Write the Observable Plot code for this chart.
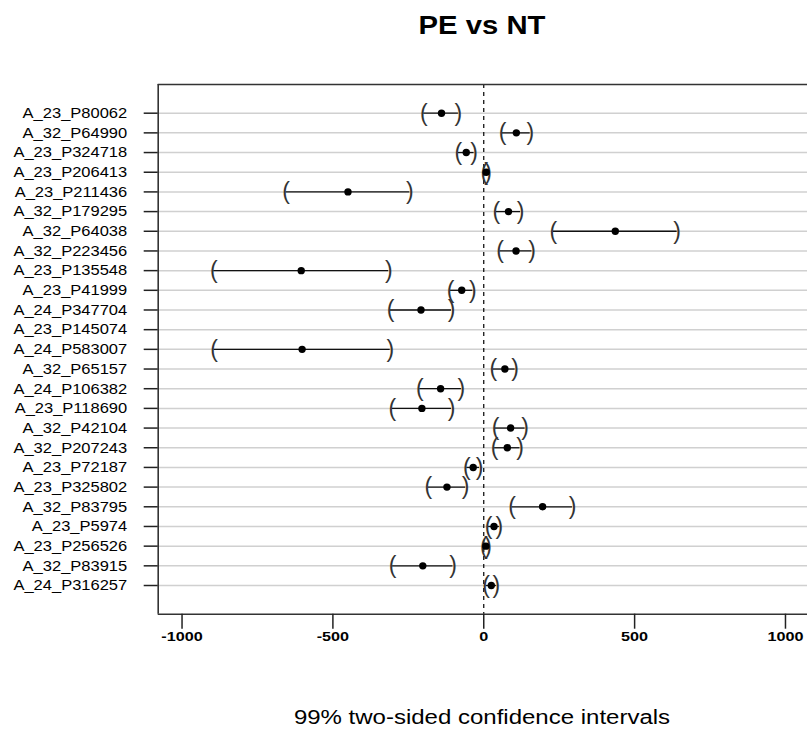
<!DOCTYPE html>
<html>
<head>
<meta charset="utf-8">
<script src="https://cdn.jsdelivr.net/npm/d3@7"></script>
<script src="https://cdn.jsdelivr.net/npm/@observablehq/plot@0.6"></script>
<style>
  body { margin: 0; background: #fff; }
  #wrap { position: relative; width: 807px; height: 731px; overflow: hidden; font-family: "Liberation Sans", Arial, sans-serif; }
  #chart { position: absolute; left: 0; top: 0; }
  .htext { position: absolute; white-space: nowrap; color: #000; transform-origin: 50% 50%; }
  #title { left: 482px; top: 13px; font-size: 25px; line-height: 25px; font-weight: bold; transform: translateX(-50%) scaleX(1.17); }
  #xlab { left: 482px; top: 707px; font-size: 20px; line-height: 20px; transform: translateX(-50%) scaleX(1.2); }
</style>
</head>
<body>
<div id="wrap">
  <div id="chart"></div>
  <div id="title" class="htext">PE vs NT</div>
  <div id="xlab" class="htext">99% two-sided confidence intervals</div>
</div>
<script>
const probes = ["A_23_P80062","A_32_P64990","A_23_P324718","A_23_P206413","A_23_P211436","A_32_P179295","A_32_P64038","A_32_P223456","A_23_P135548","A_23_P41999","A_24_P347704","A_23_P145074","A_24_P583007","A_32_P65157","A_24_P106382","A_23_P118690","A_32_P42104","A_32_P207243","A_23_P72187","A_23_P325802","A_32_P83795","A_23_P5974","A_23_P256526","A_32_P83915","A_24_P316257"];
const estimate = [-140, 108, -58, 8, -450, 82, 436, 107, -605, -73, -208, null, -602, 70, -143, -205, 89, 78, -35, -122, 195, 34, 7, -202, 25];
const lower    = [-199, 62, -84, 2, -655, 42, 231, 54, -895, -110, -309, null, -894, 32, -212, -303, 39, 36, -56, -184, 94, 16, 0, -302, 8];
const upper    = [-84, 154, -32, 14, -245, 122, 641, 160, -315, -36, -107, null, -310, 104, -74, -107, 137, 120, -14, -60, 294, 52, 14, -102, 42];
const xTicks = [-1000, -500, 0, 500, 1000];

const rows = probes.map((p, i) => ({row: i + 1, probe: p, est: estimate[i], lo: lower[i], hi: upper[i]}));
const valid = rows.filter(d => d.est != null);
const yDomain = [-0.458, 26.458];
const xDomain = [-1079, 1073];

const chart = Plot.plot({
  width: 807,
  height: 731,
  marginTop: 84,
  marginBottom: 117.3,
  marginLeft: 157.7,
  marginRight: 0,
  style: {fontFamily: "Liberation Sans, Arial, sans-serif", background: "transparent", color: "#000"},
  x: {domain: xDomain, label: null},
  y: {domain: yDomain, reverse: true, label: null},
  marks: [
    Plot.ruleY(rows, {y: "row", stroke: "#d0d0d0", strokeWidth: 1.5}),
    Plot.ruleX([0], {stroke: "#000", strokeDasharray: "4,4", strokeWidth: 1.2}),
    Plot.ruleY(yDomain, {stroke: "#333", strokeWidth: 1.6}),
    Plot.ruleX([xDomain[0]], {stroke: "#333", strokeWidth: 1.6}),
    Plot.ruleY(valid, {y: "row", x1: "lo", x2: "hi", stroke: "#111", strokeWidth: 1.3}),
    Plot.text(valid, {x: "lo", y: "row", text: () => "(", fontSize: 23, fill: "#333"}),
    Plot.text(valid, {x: "hi", y: "row", text: () => ")", fontSize: 23, fill: "#333"}),
    Plot.dot(valid, {x: "est", y: "row", r: 3.7, fill: "#000", stroke: null}),
    Plot.axisY({ticks: rows.map(d => d.row), tickFormat: i => probes[i - 1], tickSize: 14, tickPadding: 17, fontSize: 15, stroke: "#222", strokeWidth: 1.5, label: null}),
    Plot.axisX({ticks: xTicks, tickFormat: d => String(d), tickSize: 15, tickPadding: 2, fontSize: 13.5, fontWeight: "bold", stroke: "#222", strokeWidth: 1.5, label: null})
  ]
});
document.getElementById("chart").append(chart);
const stretch = (sel, k) => chart.querySelectorAll(sel).forEach(t => {
  const w = t.getComputedTextLength();
  t.setAttribute("textLength", w * k);
  t.setAttribute("lengthAdjust", "spacingAndGlyphs");
});
stretch('g[aria-label="y-axis tick label"] text', 1.1);
stretch('g[aria-label="x-axis tick label"] text', 1.2);
</script>
</body>
</html>
